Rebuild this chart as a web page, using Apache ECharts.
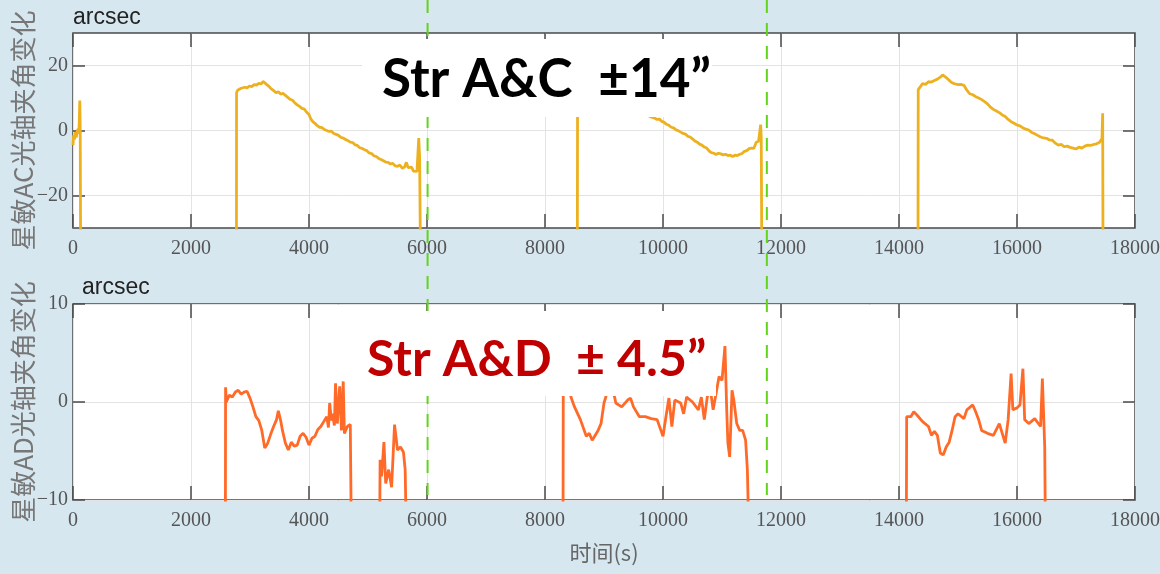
<!DOCTYPE html>
<html><head><meta charset="utf-8">
<script src="https://cdn.jsdelivr.net/npm/echarts@6/dist/echarts.min.js"></script>
<style>html,body{margin:0;padding:0;background:#d7e7f0}#c{width:1160px;height:574px}</style>
</head><body><div id="c"></div>
<script>
// ---------- data ----------
const xMin = 0, xMax = 18000, xStep = 2000;
const acTicks = [-20, 0, 20];
const adTicks = [-10, 0, 10];
const markerTimes = [6010, 11760];

// Star sensor A&C angle change (arcsec)
const acSeg1 = [[0,-4.5],[10,-1.5],[25,-2.8],[40,-0.5],[55,-2.2],[70,-0.4],[85,0.5],[95,-1],[105,2],[115,9.2],[122,2],[130,-40]];
const acSeg2 = [[2770,-40],[2772,11.6],[2790,12.4],[2820,12.1],[2850,13.0],[2880,12.7],[2910,13.3],[2950,13.1],[2990,13.7],[3030,13.5],[3070,14.1],[3110,14.0],[3150,14.5],[3190,14.3],[3220,15.1],[3250,14.6],[3280,14.2],[3320,13.6],[3360,12.8],[3400,12.3],[3440,11.6],[3480,11.9],[3520,11.2],[3560,11.4],[3600,10.8],[3640,10.2],[3680,9.6],[3720,9.3],[3760,8.5],[3800,7.9],[3840,7.4],[3880,6.8],[3920,6.6],[3960,5.6],[4000,4.9],[4030,3.6],[4060,2.8],[4100,2.2],[4140,1.5],[4180,1.0],[4220,0.9],[4260,0.3],[4300,0.0],[4340,-0.3],[4380,-0.2],[4420,-0.9],[4460,-1.2],[4500,-1.5],[4540,-2.1],[4580,-2.3],[4620,-2.8],[4660,-3.1],[4700,-3.6],[4740,-3.7],[4780,-4.4],[4820,-4.6],[4860,-5.3],[4900,-5.5],[4940,-5.9],[4980,-6.2],[5020,-6.9],[5060,-7.1],[5100,-7.8],[5140,-8.0],[5180,-8.6],[5220,-8.9],[5260,-9.3],[5300,-9.7],[5340,-9.8],[5380,-10.3],[5420,-10.1],[5460,-10.9],[5500,-11.0],[5540,-10.6],[5580,-11.6],[5620,-11.2],[5650,-9.8],[5680,-11.4],[5710,-12.0],[5740,-11.3],[5770,-12.5],[5800,-13.0],[5830,-12.6],[5850,-12.2],[5860,-2.3],[5875,-8],[5890,-40]];
const acSeg3 = [[8548,-40],[8552,12],[8600,12.6],[8700,13.2],[8800,13.8],[8900,14.3],[8950,14.8],[9000,14.5],[9100,13.5],[9200,12.0],[9300,11.5],[9400,10.6],[9500,9.4],[9600,8.0],[9700,6.0],[9775,4.3],[9820,4.0],[9860,3.8],[9900,3.4],[9940,3.5],[9980,2.8],[10020,2.5],[10060,1.9],[10100,1.6],[10140,1.0],[10180,0.8],[10220,0.2],[10260,-0.1],[10300,-0.5],[10340,-0.9],[10380,-1.1],[10420,-1.8],[10460,-2.0],[10500,-2.6],[10540,-3.2],[10580,-3.6],[10620,-4.2],[10660,-4.5],[10700,-5.1],[10740,-5.4],[10780,-6.3],[10820,-6.8],[10860,-7.0],[10900,-7.4],[10940,-7.0],[10980,-7.2],[11020,-7.5],[11060,-7.3],[11100,-7.7],[11140,-7.6],[11180,-8.0],[11220,-7.6],[11260,-7.7],[11300,-7.3],[11340,-7.1],[11380,-6.4],[11420,-6.2],[11460,-5.6],[11500,-5.4],[11540,-5.5],[11580,-3.6],[11620,-3.3],[11640,-2.8],[11655,1.8],[11665,-2],[11675,-40]];
const acSeg4 = [[14322,-40],[14326,12.6],[14350,13.2],[14400,14.4],[14450,14.2],[14500,15.0],[14550,14.9],[14600,15.4],[14650,15.8],[14700,16.4],[14740,17.1],[14770,16.6],[14800,16.3],[14840,15.6],[14880,14.9],[14920,14.5],[14960,14.3],[15000,14.1],[15050,14.2],[15100,13.9],[15150,12.4],[15200,11.3],[15250,11.0],[15300,10.4],[15350,10.0],[15400,9.5],[15450,8.9],[15500,8.2],[15550,7.2],[15600,6.5],[15650,6.0],[15700,5.5],[15750,4.8],[15800,4.3],[15850,3.4],[15900,2.7],[15950,2.2],[16000,1.7],[16050,1.4],[16100,0.8],[16150,0.4],[16200,0.1],[16250,-0.6],[16300,-1.0],[16350,-1.5],[16400,-2.0],[16450,-2.3],[16500,-2.4],[16550,-2.9],[16600,-3.0],[16650,-3.9],[16700,-4.5],[16750,-4.3],[16800,-5.0],[16850,-4.8],[16900,-5.2],[16950,-5.4],[17000,-5.7],[17050,-5.1],[17100,-5.4],[17150,-4.8],[17200,-4.5],[17250,-4.6],[17300,-4.3],[17350,-4.1],[17400,-3.6],[17440,-2.5],[17452,5.3],[17458,-40]];

// Star sensor A&D angle change (arcsec)
const adSeg1 = [[2583,-12],[2586,1.5],[2600,0],[2620,0.3],[2650,0.7],[2700,0.5],[2750,1.0],[2800,1.2],[2850,0.8],[2900,1.0],[2950,1.1],[3000,0.4],[3050,-0.5],[3100,-1.5],[3150,-1.9],[3200,-2.9],[3250,-4.7],[3300,-4.2],[3350,-3.3],[3400,-2.5],[3450,-1.8],[3480,-0.9],[3520,-1.9],[3550,-2.9],[3600,-4.2],[3650,-4.9],[3700,-4.1],[3750,-4.5],[3800,-4.4],[3850,-3.5],[3900,-3.2],[3950,-3.6],[4000,-4.4],[4050,-3.7],[4100,-3.5],[4150,-2.8],[4200,-2.5],[4250,-2.0],[4300,-1.5],[4330,-2.6],[4350,-0.1],[4380,-1.9],[4400,-1.2],[4430,-2.4],[4450,1.9],[4480,-2.2],[4520,1.6],[4550,-2.9],[4580,2.1],[4600,-3.2],[4650,-2.5],[4700,-2.3],[4715,-12]];
const adSeg2 = [[5199,-12],[5205,-5.9],[5230,-7.6],[5270,-4.1],[5300,-8.3],[5350,-6.9],[5400,-8.7],[5450,-2.3],[5500,-4.9],[5550,-4.6],[5600,-5.1],[5630,-6.9],[5645,-12]];
const adSeg3 = [[8306,-12],[8310,2.5],[8350,3.5],[8400,2],[8440,0.5],[8500,-0.5],[8600,-1.8],[8700,-3.5],[8750,-3.2],[8800,-3.9],[8900,-2.9],[8950,-2.2],[9000,-0.1],[9050,0.9],[9100,2.0],[9180,0.5],[9200,-0.1],[9300,-0.5],[9400,0.2],[9450,0.4],[9500,-0.5],[9600,-1.5],[9700,-1.5],[9800,-1.7],[9900,-1.8],[10000,-3.5],[10050,-1.5],[10100,0.4],[10150,-2.5],[10200,0.2],[10300,-0.1],[10350,-1.2],[10400,0.5],[10500,0.0],[10600,-0.8],[10650,0.5],[10700,-1.8],[10750,0.5],[10800,1.4],[10850,-0.8],[10900,0.9],[10950,2.6],[11000,2.2],[11050,5.7],[11080,-0.8],[11100,-4.2],[11130,-5.6],[11170,1.2],[11200,0.2],[11250,-2.2],[11300,-2.9],[11350,-2.9],[11400,-3.9],[11430,-6.9],[11450,-12]];
const adSeg4 = [[14125,-12],[14130,-1.5],[14150,-1.3],[14200,-1.5],[14250,-1.0],[14300,-1.3],[14400,-2.0],[14500,-2.5],[14550,-3.4],[14600,-3.0],[14650,-3.4],[14700,-5.2],[14750,-5.4],[14800,-4.6],[14850,-4.1],[14900,-2.9],[14950,-1.5],[15000,-1.2],[15100,-1.7],[15150,-0.8],[15250,-0.3],[15300,-1.0],[15350,-1.8],[15400,-2.9],[15500,-3.2],[15600,-3.4],[15700,-2.2],[15800,-4.2],[15850,-1.8],[15900,2.9],[15930,-0.8],[16000,-0.6],[16050,-0.3],[16100,3.4],[16130,-1.8],[16200,-2.2],[16300,-1.7],[16400,-2.5],[16430,2.4],[16470,-4.6],[16480,-12]];

const acSegments = [acSeg1, acSeg2, acSeg3, acSeg4];
const adSegments = [adSeg1, adSeg2, adSeg3, adSeg4];

// ---------- styles ----------
const acColor = '#EDB120', adColor = '#FF6A28';
const tickFont = {fontFamily: 'Liberation Serif', fontSize: 20, color: '#555'};
const frame = '#4a4a4a';

function xAx(grid, pos, labels) {
  return {type: 'value', gridIndex: grid, position: pos, min: xMin, max: xMax, interval: xStep,
    axisLine: {show: false, onZero: false},
    axisTick: {show: true, inside: true, length: 14, lineStyle: {color: frame, width: 1.5}},
    axisLabel: labels ? Object.assign({show: true, margin: 11, formatter: v => String(v)}, tickFont) : {show: false},
    splitLine: {show: labels, lineStyle: {color: '#e3e3e3', width: 1}}};
}
function yAx(grid, pos, ticks, lo, hi, name) {
  const a = {type: 'value', gridIndex: grid, position: pos, min: lo, max: hi,
    axisLine: {show: false, onZero: false},
    axisTick: {show: true, inside: true, length: 12, customValues: ticks, lineStyle: {color: frame, width: 1.5}},
    axisLabel: pos === 'left' ? Object.assign({show: true, margin: 5, customValues: ticks,
        formatter: v => String(v).replace('-', '\u2212')}, tickFont) : {show: false},
    splitLine: {show: pos === 'left', lineStyle: {color: '#e3e3e3', width: 1}}};
  if (name) {
    Object.assign(a, {name: name, nameLocation: 'middle', nameRotate: 90, nameGap: 37, nameMoveOverlap: false,
      nameTextStyle: {fontFamily: 'Noto Sans CJK SC', fontSize: 26, color: '#777'}});
  }
  return a;
}

const series = [];
acSegments.forEach(s => series.push({type: 'line', xAxisIndex: 0, yAxisIndex: 0, data: s,
  showSymbol: false, symbol: 'none', clip: true, lineStyle: {color: acColor, width: 2.8}, z: 3}));
adSegments.forEach(s => series.push({type: 'line', xAxisIndex: 2, yAxisIndex: 2, data: s,
  showSymbol: false, symbol: 'none', clip: true, lineStyle: {color: adColor, width: 2.8}, z: 3}));

const xA3 = xAx(1, 'bottom', true);
Object.assign(xA3, {name: '时间(s)', nameLocation: 'middle', nameGap: 42, nameMoveOverlap: false,
  nameTextStyle: {fontFamily: 'Noto Sans CJK SC', fontSize: 22, color: '#666'}});

const chart = echarts.init(document.getElementById('c'), null, {renderer: 'canvas'});
chart.setOption({
  backgroundColor: '#d7e7f0',
  animation: false,
  title: [
    {text: 'arcsec', left: 73, top: 6, padding: 0, textStyle: {fontFamily: 'Liberation Sans', fontSize: 23, fontWeight: 'normal', color: '#222'}},
    {text: 'arcsec', left: 82, top: 276, padding: 0, textStyle: {fontFamily: 'Liberation Sans', fontSize: 23, fontWeight: 'normal', color: '#222'}}
  ],
  grid: [
    {left: 73, right: 25, top: 33, height: 195, containLabel: false, outerBoundsMode: 'none', show: true, backgroundColor: '#fff', borderColor: frame, borderWidth: 1.5},
    {left: 73, right: 25, top: 304, height: 196, containLabel: false, outerBoundsMode: 'none', show: true, backgroundColor: '#fff', borderColor: frame, borderWidth: 1.5}
  ],
  xAxis: [xAx(0, 'bottom', true), xAx(0, 'top', false), xA3, xAx(1, 'top', false)],
  yAxis: [yAx(0, 'left', acTicks, -30, 30, '星敏AC光轴夹角变化'), yAx(0, 'right', acTicks, -30, 30),
          yAx(1, 'left', adTicks, -10, 10, '星敏AD光轴夹角变化'), yAx(1, 'right', adTicks, -10, 10)],
  series: series
});

// marker lines and annotations
const topY = 0;
const botY = chart.convertToPixel({gridIndex: 1}, [0, -10])[1] - 5;
const graphics = markerTimes.map(t => {
  const px = chart.convertToPixel({gridIndex: 0}, [t, 0])[0];
  return {type: 'line', z: 100, shape: {x1: px, y1: topY, x2: px, y2: botY},
    style: {stroke: '#62d41c', lineWidth: 2, lineDash: [13, 10]}};
});
graphics.push(
  {type: 'rect', z: 110, shape: {x: 362, y: 39, width: 350, height: 78}, style: {fill: '#fff'}},
  {type: 'rect', z: 110, shape: {x: 356, y: 311, width: 360, height: 85}, style: {fill: '#fff'}},
  {type: 'text', z: 120, x: 382, y: 80, style: {text: 'Str A&C  \u00b114\u201d', fontFamily: 'Lato', fontWeight: 'bold', fontSize: 53, fill: '#000', verticalAlign: 'middle', align: 'left'}},
  {type: 'text', z: 120, x: 367, y: 360, style: {text: 'Str A&D  \u00b1 4.5\u201d', fontFamily: 'Lato', fontWeight: 'bold', fontSize: 50, fill: '#c00000', verticalAlign: 'middle', align: 'left'}}
);
chart.setOption({graphic: {elements: graphics}});
</script>
</body></html>
